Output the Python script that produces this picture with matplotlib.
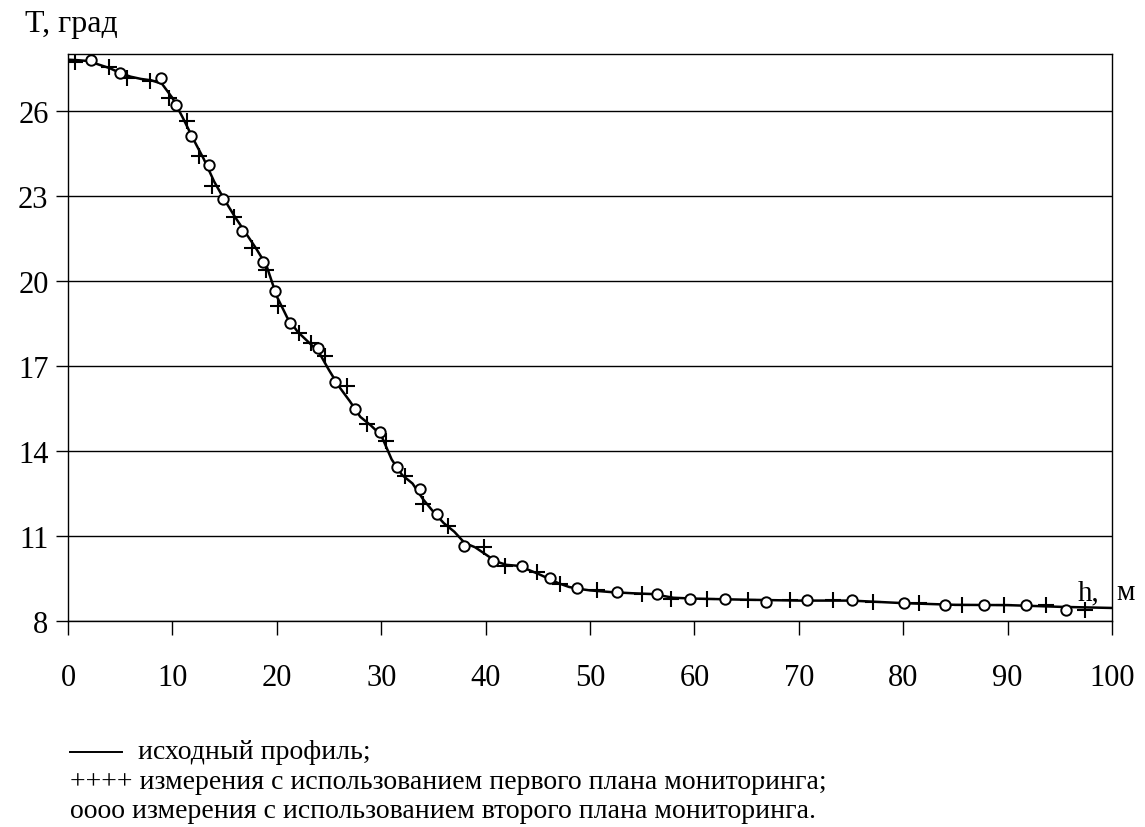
import matplotlib
matplotlib.use("Agg")
import matplotlib.pyplot as plt
from matplotlib.lines import Line2D

plt.rcParams['font.family'] = ['Liberation Serif', 'DejaVu Serif']

# Initial profile (line)
profile_h = [0, 1, 2, 3, 4, 5, 6, 7, 8, 9, 10, 11, 12, 13, 14, 15, 16, 17, 18, 19,
             20, 21, 22, 23, 24, 25, 26, 27, 28, 29, 30, 31, 32, 33, 34, 35, 36, 37,
             38, 39, 40, 41, 42, 43, 44, 45, 46, 47, 48, 49, 50, 52, 54, 56, 58, 60,
             65, 70, 75, 80, 85, 90, 95, 100]
profile_T = [27.8, 27.78, 27.75, 27.62, 27.5, 27.33, 27.2, 27.12, 27.07, 26.95, 26.45,
             25.75, 25.0, 24.3, 23.5, 22.85, 22.25, 21.7, 21.15, 20.55, 19.45, 18.7,
             18.2, 17.85, 17.5, 16.85, 16.25, 15.75, 15.2, 14.9, 14.55, 13.7, 13.15,
             12.85, 12.3, 11.85, 11.45, 11.15, 10.75, 10.6, 10.35, 10.1, 9.98, 9.95,
             9.82, 9.67, 9.5, 9.33, 9.2, 9.13, 9.08, 9.02, 8.98, 8.95, 8.82, 8.79,
             8.75, 8.72, 8.72, 8.63, 8.57, 8.56, 8.5, 8.46]

# First monitoring plan (+)
plan1_h = [0.7, 3.9, 5.65, 7.9, 9.65, 11.4, 12.5, 13.8, 15.9, 17.6, 19.0, 20.1, 22.1,
           23.3, 24.6, 26.7, 28.6, 30.5, 32.3, 34.0, 36.4, 39.8, 41.9, 44.9, 47.1,
           50.7, 55.0, 57.8, 61.2, 65.1, 69.2, 73.3, 77.1, 81.5, 85.6, 89.7, 93.7, 97.4]
plan1_T = [27.73, 27.55, 27.14, 27.03, 26.44, 25.63, 24.4, 23.35, 22.24, 21.14, 20.39,
           19.1, 18.17, 17.8, 17.35, 16.3, 14.95, 14.36, 13.13, 12.13, 11.36, 10.6,
           9.95, 9.73, 9.31, 9.08, 8.97, 8.79, 8.79, 8.73, 8.73, 8.73, 8.67, 8.62,
           8.56, 8.56, 8.56, 8.38]

# Second monitoring plan (o)
plan2_h = [2.2, 5.0, 8.9, 10.3, 11.8, 13.5, 14.8, 16.7, 18.7, 19.8, 21.3, 23.9, 25.6,
           27.5, 29.9, 31.5, 33.7, 35.3, 37.9, 40.7, 43.5, 46.2, 48.8, 52.6, 56.4,
           59.6, 62.9, 66.9, 70.8, 75.1, 80.1, 84.0, 87.7, 91.8, 95.6]
plan2_T = [27.8, 27.32, 27.14, 26.21, 25.1, 24.1, 22.88, 21.77, 20.68, 19.63, 18.52,
           17.64, 16.42, 15.48, 14.67, 13.44, 12.66, 11.77, 10.66, 10.13, 9.95, 9.5,
           9.16, 9.02, 8.97, 8.79, 8.79, 8.67, 8.73, 8.73, 8.62, 8.58, 8.56, 8.58, 8.38]

x_ticks = [0, 10, 20, 30, 40, 50, 60, 70, 80, 90, 100]
y_ticks = [8, 11, 14, 17, 20, 23, 26]

W, H = 1145, 828
fig = plt.figure(figsize=(W / 100, H / 100), dpi=100)
ax = fig.add_axes([68 / W, 1 - 622 / H, (1112 - 68) / W, (622 - 55) / H])

ax.set_xlim(0, 100)
ax.set_ylim(8, 28)
ax.set_xticks(x_ticks)
ax.set_yticks(y_ticks)
ax.grid(axis='y', color='black', linewidth=1.0)
ax.set_axisbelow(True)
for s in ax.spines.values():
    s.set_linewidth(1.0)
    s.set_color('black')

ax.tick_params(axis='x', direction='out', length=10, width=1, pad=20, labelsize=22)
ax.tick_params(axis='y', direction='out', length=9, width=1, pad=5, labelsize=22)

ax.plot(profile_h, profile_T, color='black', linewidth=1.8, zorder=3)
ax.plot(plan1_h, plan1_T, linestyle='none', marker='+', markersize=11,
        markeredgewidth=1.5, color='black', zorder=4)
ax.plot(plan2_h, plan2_T, linestyle='none', marker='o', markersize=7.5,
        markeredgewidth=1.4, markerfacecolor='white', markeredgecolor='black', zorder=5)

fig.text(25 / W, 1 - 32 / H, 'T, град', fontsize=23, ha='left', va='baseline')
fig.text(1078 / W, 1 - 600 / H, 'h,', fontsize=21, ha='left', va='baseline')
fig.text(1116 / W, 1 - 600 / H, 'м', fontsize=21, ha='left', va='baseline')

# Legend text block
fig.add_artist(Line2D([70 / W, 122 / W], [1 - 753 / H, 1 - 753 / H],
                      color='black', linewidth=1.4))
fig.text(138 / W, 1 - 759 / H, 'исходный профиль;', fontsize=20, ha='left', va='baseline')
fig.text(70 / W, 1 - 789 / H, '++++ измерения с использованием первого плана мониторинга;',
         fontsize=20, ha='left', va='baseline')
fig.text(70 / W, 1 - 818 / H, 'оооо измерения с использованием второго плана мониторинга.',
         fontsize=20, ha='left', va='baseline')

fig.savefig('out.png', dpi=100)
